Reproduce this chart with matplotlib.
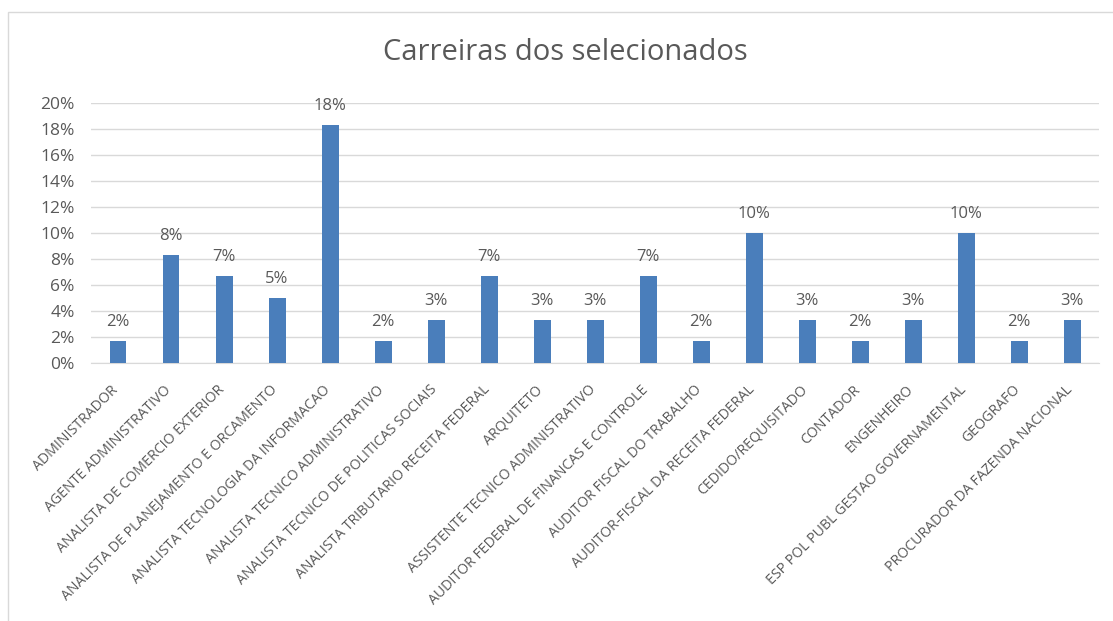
import matplotlib.pyplot as plt
from matplotlib.patches import Rectangle
from matplotlib.ticker import PercentFormatter
from matplotlib.transforms import ScaledTranslation

plt.rcParams['font.family'] = ['Open Sans', 'DejaVu Sans']

carreiras = [
    'ADMINISTRADOR',
    'AGENTE ADMINISTRATIVO',
    'ANALISTA DE COMERCIO EXTERIOR',
    'ANALISTA DE PLANEJAMENTO E ORCAMENTO',
    'ANALISTA TECNOLOGIA DA INFORMACAO',
    'ANALISTA TECNICO ADMINISTRATIVO',
    'ANALISTA TECNICO DE POLITICAS SOCIAIS',
    'ANALISTA TRIBUTARIO RECEITA FEDERAL',
    'ARQUITETO',
    'ASSISTENTE TECNICO ADMINISTRATIVO',
    'AUDITOR FEDERAL DE FINANCAS E CONTROLE',
    'AUDITOR FISCAL DO TRABALHO',
    'AUDITOR-FISCAL DA RECEITA FEDERAL',
    'CEDIDO/REQUISITADO',
    'CONTADOR',
    'ENGENHEIRO',
    'ESP POL PUBL GESTAO GOVERNAMENTAL',
    'GEOGRAFO',
    'PROCURADOR DA FAZENDA NACIONAL',
]
selecionados = [1, 5, 4, 3, 11, 1, 2, 4, 2, 2, 4, 1, 6, 2, 1, 2, 6, 1, 2]
total = sum(selecionados)
pct = [s / total for s in selecionados]

cinza = '#595959'
azul = '#4a7ebb'

fig = plt.figure(figsize=(11.13, 6.21), dpi=100)
ax = fig.add_axes([0.0822, 0.4155, 0.905, 0.4187])

x = range(len(carreiras))
bars = ax.bar(x, pct, width=0.32, color=azul, zorder=3)
for b, p in zip(bars, pct):
    ax.annotate(f'{p:.0%}', (b.get_x() + b.get_width() / 2, p),
                xytext=(0, 8), textcoords='offset points',
                ha='center', va='bottom', fontsize=12, color=cinza)

ax.set_xlim(-0.5, len(carreiras) - 0.5)
ax.set_ylim(0, 0.20)
ax.set_yticks([i / 100 for i in range(0, 21, 2)])
ax.yaxis.set_major_formatter(PercentFormatter(1.0, decimals=0))
ax.grid(axis='y', color='#d9d9d9', linewidth=1, zorder=0)
for s in ['top', 'right', 'left']:
    ax.spines[s].set_visible(False)
ax.spines['bottom'].set_color('#d9d9d9')
ax.tick_params(axis='both', length=0, colors=cinza)
ax.tick_params(axis='y', pad=12, labelsize=12.5)
ax.set_xticks(list(x))
ax.set_xticklabels(carreiras, rotation=45, ha='right', rotation_mode='anchor',
                   fontsize=10.2, color=cinza)
ax.tick_params(axis='x', pad=14)

# nudge the slanted labels a bit to the left of their ticks
shift = ScaledTranslation(-7 / 100, 0, fig.dpi_scale_trans)
for lbl in ax.get_xticklabels():
    lbl.set_transform(lbl.get_transform() + shift)

fig.text(565 / 1113, 1 - 52 / 621, 'Carreiras dos selecionados', ha='center',
         va='center', fontsize=21, color=cinza)

# chart border
fig.add_artist(Rectangle((8 / 1113, -0.1), 1.2, 1 - 12 / 621 + 0.1,
                         transform=fig.transFigure, fill=False,
                         edgecolor='#d9d9d9', linewidth=1))

fig.savefig('out.png', dpi=100)
